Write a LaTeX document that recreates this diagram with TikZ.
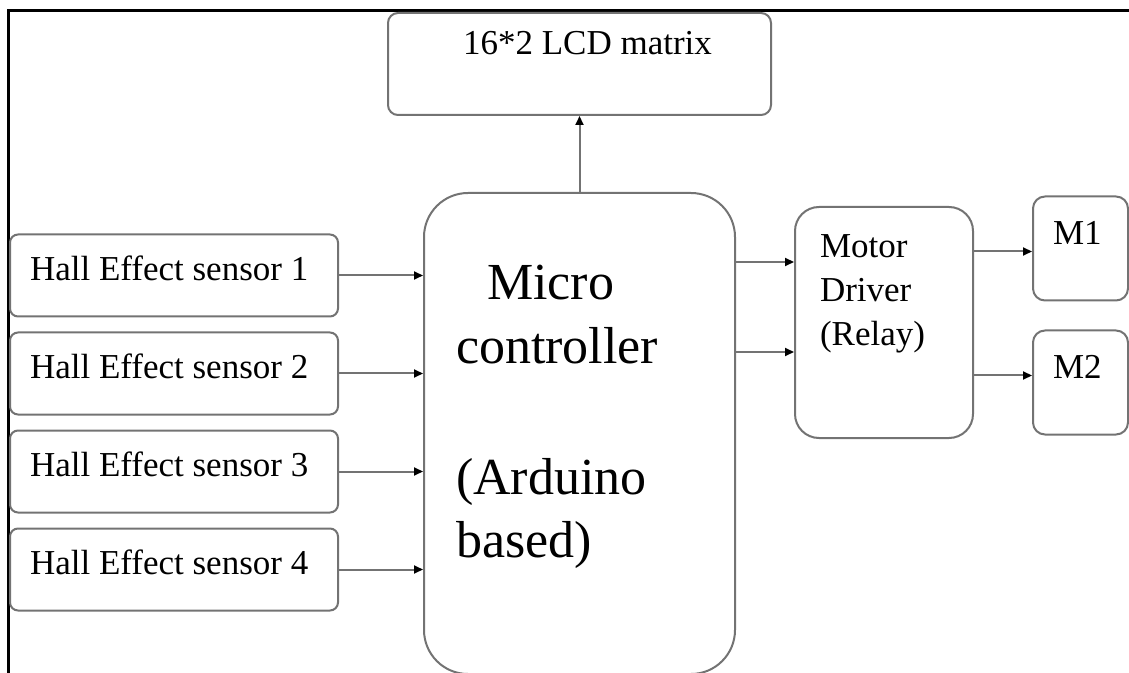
\documentclass[tikz,border=0pt]{standalone}
\usepackage{fontspec}
\setmainfont{Liberation Serif}
\usetikzlibrary{positioning,arrows.meta}

\begin{document}
\begin{tikzpicture}[x=0.5pt,y=-0.5pt,node distance=7pt,
	box/.style={draw=black!55, line width=1pt, inner ysep=0pt, font=\fontsize{17.5}{22}\selectfont},
	sensor/.style={box, rounded corners=4pt, text width=144pt, inner xsep=10pt, align=flush left, text height=23pt, text depth=18pt},
	motor/.style={box, rounded corners=6pt, text width=27.5pt, inner xsep=10pt, align=flush left, text height=24pt, text depth=28pt},
	arr/.style={draw=black!55, line width=1pt, -{Triangle[length=4.5pt,width=4pt,color=black]}}]
	\clip (0,0) rectangle (1129,673);
	\draw[line width=1.5pt] (8,673) -- (8,11) -- (1129,11);

	\node(lcd) [box, rounded corners=5pt, minimum width=191.5pt, text height=21pt, text depth=30pt] at (579.5,64) {\hspace*{8pt}16*2 LCD matrix};
	\node(mcu) [box, rounded corners=22pt, text width=123.5pt, inner xsep=16pt, align=flush left, text height=53.5pt, text depth=187pt, font=\fontsize{26}{32}\selectfont] at (579.5,433.5) {\hspace*{15.5pt}Micro\\controller\\[33pt](Arduino\\based)};
	\node(driver) [box, rounded corners=12pt, text width=64pt, inner xsep=12.5pt, align=flush left, text height=25.5pt, text depth=90pt] at (884,322.5) {Motor\\Driver\\(Relay)};
	\node(m1) [motor] at (1080.5,248.5) {M1};
	\node(m2) [motor] at (1080.5,382.5) {M2};
	\node(hall1) [sensor] at (174,275.5) {Hall Effect sensor 1};
	\node(hall2) [sensor, below=of hall1] {Hall Effect sensor 2};
	\node(hall3) [sensor, below=of hall2] {Hall Effect sensor 3};
	\node(hall4) [sensor, below=of hall3] {Hall Effect sensor 4};
	\coordinate(drv1) at ([yshift=-28pt]driver.north west);
	\coordinate(drv2) at ([yshift=-73pt]driver.north west);

	\draw[arr] (mcu) --(lcd);
	\draw[arr] (hall1) --(hall1 -| mcu.west);
	\draw[arr] (hall2) --(hall2 -| mcu.west);
	\draw[arr] (hall3) --(hall3 -| mcu.west);
	\draw[arr] (hall4) --(hall4 -| mcu.west);
	\draw[arr] (mcu.east |- drv1) --(drv1);
	\draw[arr] (mcu.east |- drv2) --(drv2);
	\draw[arr] ([yshift=-1.5pt]driver.east |- m1) --([yshift=-1.5pt]m1.west);
	\draw[arr] ([yshift=3.5pt]driver.east |- m2.west) --([yshift=3.5pt]m2.west);
\end{tikzpicture}
\end{document}
